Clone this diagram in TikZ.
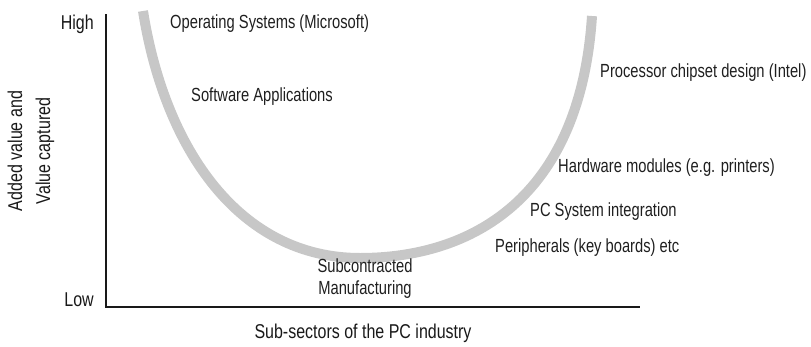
\documentclass[tikz,border=0pt]{standalone}
\usepackage{fontspec}
\setmainfont{Liberation Sans}
\newfontfamily\itemfont[FakeStretch=0.775]{Liberation Sans}
\newfontfamily\axfont[FakeStretch=0.8]{Liberation Sans}
\begin{document}
\begin{tikzpicture}[x=1pt,y=-1pt,
  lbl/.style={font=\itemfont\fontsize{19}{22}\selectfont, text=black!88, inner sep=0pt},
  axlbl/.style={font=\axfont\fontsize{20}{28}\selectfont, text=black!90, inner sep=0pt},
  axisline/.style={line width=2pt, black!90},
  curve/.style={line width=10pt, color=black!22}]
\useasboundingbox (0,0) rectangle (811,346);
\coordinate (top) at (106,14);
\coordinate (origin) at (106,307);
\coordinate (xend) at (640,307);
\draw[axisline] (top) -- (origin) -- (xend);
\coordinate (cl) at (143,11);
\coordinate (cb) at (360,258);
\coordinate (cr) at (592,16);
\draw[curve] (cl) .. controls (165,150) and (240,258) .. (cb) .. controls (470,258) and (580,200) .. (cr);
\node[axlbl, anchor=east] (high) at (94,24) {High};
\node[axlbl, anchor=east] (low) at (94,300) {Low};
\node[axlbl, rotate=90, align=center] (ylab) at (31,151) {Added value and\\Value captured};
\node[axlbl] (xlab) at (363,333) {Sub-sectors of the PC industry};
\node[lbl, anchor=west] (os) at (170,24) {Operating Systems (Microsoft)};
\node[lbl, anchor=west] (sw) at (191,97) {Software Applications};
\node[lbl, anchor=west] (proc) at (600,73) {Processor chipset design (Intel)};
\node[lbl, anchor=west] (hw) at (558,168) {Hardware modules (e.g. printers)};
\node[lbl, anchor=west] (pc) at (530,212) {PC System integration};
\node[lbl, anchor=west] (per) at (495,248) {Peripherals (key boards) etc};
\node[lbl, align=center] (sub) at (365,279) {Subcontracted\\Manufacturing};
\end{tikzpicture}
\end{document}
